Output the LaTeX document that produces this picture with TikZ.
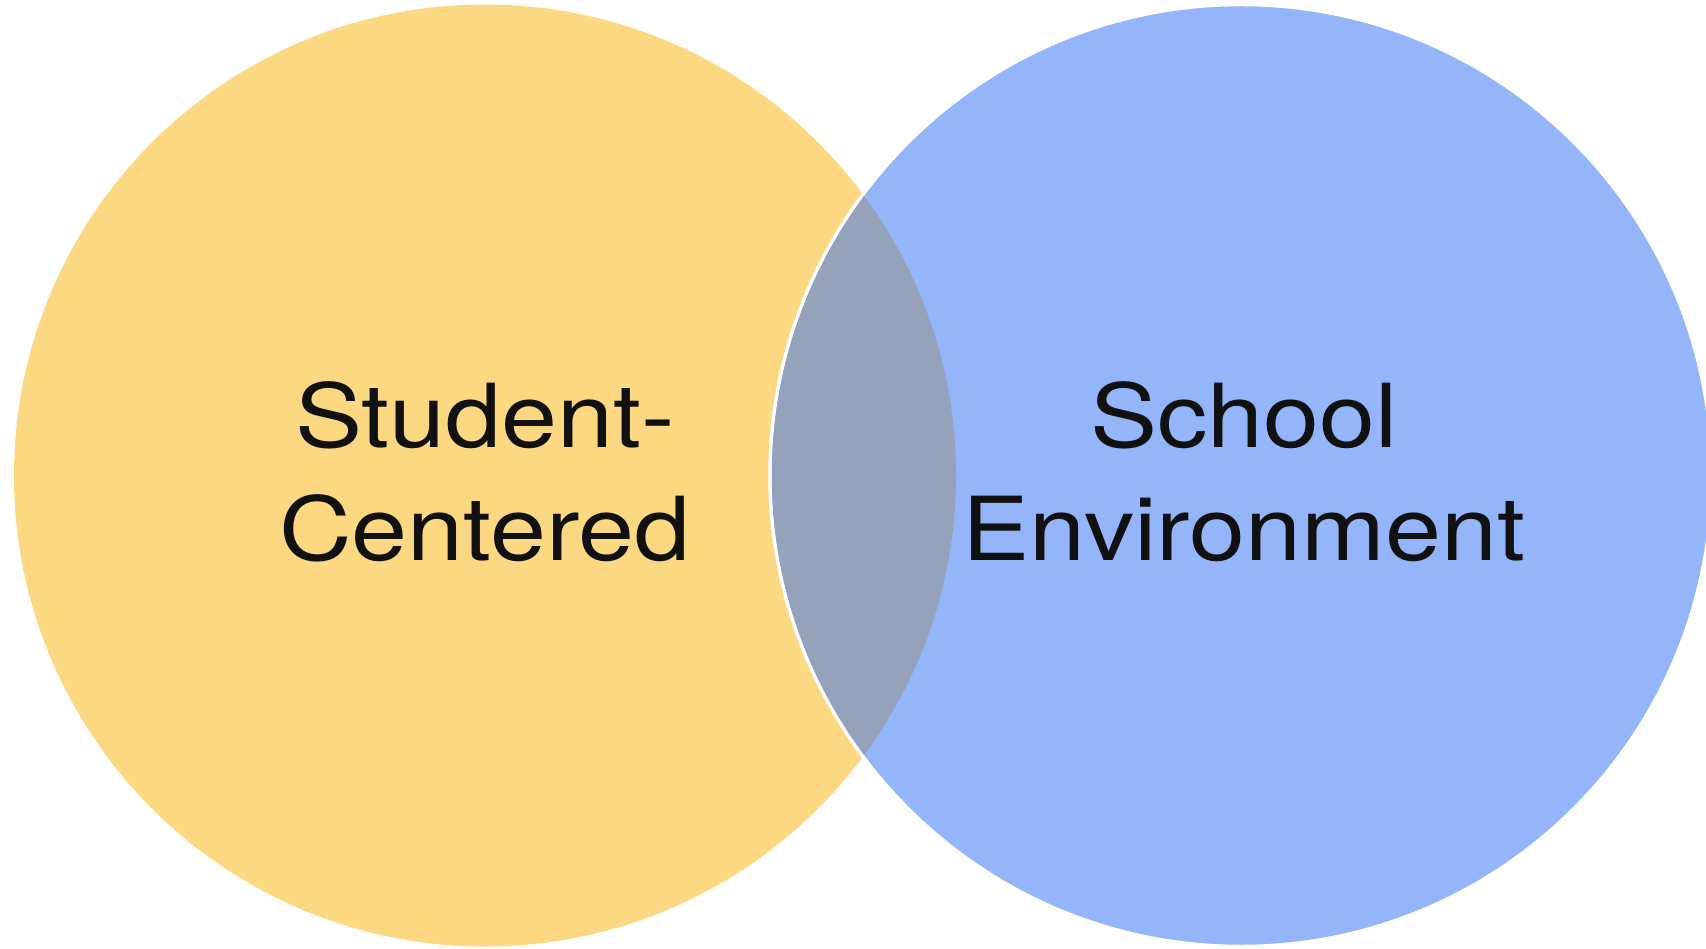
\documentclass[tikz,border=0pt]{standalone}
\usepackage{fontspec}
\setmainfont{TeX Gyre Heros}
\newfontfamily\labelfont[FakeStretch=1.14]{TeX Gyre Heros}
\definecolor{setyellow}{RGB}{253,216,130}
\definecolor{setblue}{RGB}{148,181,250}
\definecolor{setlens}{RGB}{148,163,187}
\definecolor{labelink}{RGB}{17,17,17}
\begin{document}
\begin{tikzpicture}[x=1pt,y=-1pt,
  setlabel/.style={anchor=base,inner sep=0pt,text=labelink,
    font=\labelfont\fontsize{88.3}{112}\selectfont}]
\useasboundingbox (0,0) rectangle (1706,949);
\begin{scope}
\clip (0,0) rectangle (1706,949);
% the two sets
\fill[setyellow] (485,475.5) circle (471);
\filldraw[fill=setblue,draw=white,line width=3.5pt] (1241,475.5) circle (471);
% overlap of the two sets
\begin{scope}
  \clip (485,475.5) circle (471);
  \fill[setlens] (1241,475.5) circle (469.2);
\end{scope}
\end{scope}
% labels
\node[setlabel] (s1) at (485,448) {Student-};
\node[setlabel] (s2) at (485,560) {Centered};
\node[setlabel] (e1) at (1244,448) {School};
\node[setlabel] (e2) at (1244,560) {Environment};
\end{tikzpicture}
\end{document}
